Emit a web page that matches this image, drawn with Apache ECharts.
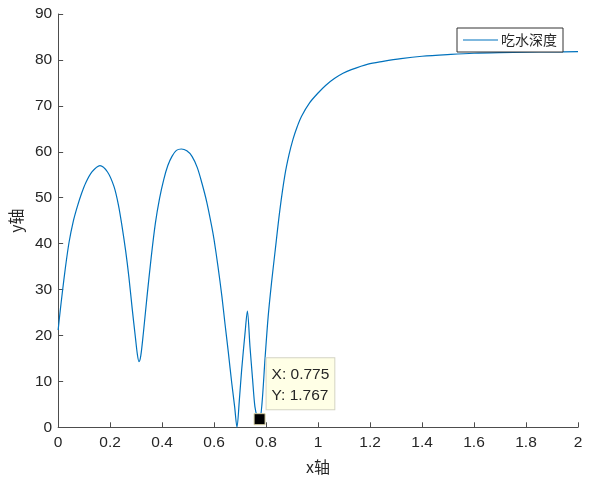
<!DOCTYPE html>
<html>
<head>
<meta charset="utf-8">
<script src="https://cdn.jsdelivr.net/npm/echarts@6/dist/echarts.min.js"></script>
<style>
  html, body { margin: 0; padding: 0; background: #fff; }
  #chart { width: 590px; height: 483px; }
</style>
</head>
<body>
<div id="chart"></div>
<script>
// 吃水深度曲线 (从图上读出的点)
const xData = [0, 0.008, 0.016, 0.028, 0.042, 0.058, 0.074, 0.09, 0.106, 0.13, 0.161, 0.19, 0.215, 0.232, 0.246, 0.26, 0.272, 0.285, 0.297, 0.305, 0.311, 0.318, 0.328, 0.342, 0.358, 0.374, 0.39, 0.406, 0.422, 0.438, 0.455, 0.474, 0.495, 0.515, 0.535, 0.553, 0.572, 0.591, 0.6, 0.615, 0.63, 0.642, 0.655, 0.668, 0.679, 0.688, 0.697, 0.706, 0.719, 0.728, 0.738, 0.748, 0.757, 0.766, 0.775, 0.784, 0.796, 0.808, 0.821, 0.834, 0.853, 0.872, 0.888, 0.904, 0.92, 0.936, 0.968, 1.0, 1.03, 1.064, 1.096, 1.128, 1.192, 1.25, 1.319, 1.4, 1.511, 1.6, 1.7, 1.8, 1.9, 2.0]
const yData = [21.2, 25.4, 29.3, 34.8, 40.3, 44.8, 48.1, 50.9, 53.2, 55.6, 57.0, 55.6, 52.4, 48.4, 43.7, 38.3, 32.8, 25.8, 19.7, 15.8, 14.3, 15.6, 20.6, 28.5, 37, 44.4, 49.8, 53.9, 57, 59.0, 60.3, 60.6, 60.2, 59, 56.6, 53.2, 49, 43.7, 40.8, 35, 28.5, 22.5, 16.2, 9.6, 4.5, 0, 5.8, 12.5, 20.5, 25.3, 17.6, 10.5, 4.5, 2.3, 1.767, 5, 15, 24.1, 31.5, 38, 47.3, 54.8, 59.3, 62.8, 65.5, 67.7, 70.7, 72.8, 74.5, 76.0, 77.1, 77.9, 79.1, 79.7, 80.3, 80.8, 81.2, 81.45, 81.6, 81.7, 81.75, 81.8]
const xTicks = [0, 0.2, 0.4, 0.6, 0.8, 1, 1.2, 1.4, 1.6, 1.8, 2]
const yTicks = [0, 10, 20, 30, 40, 50, 60, 70, 80, 90]
const tipPoint = [0.775, 1.767] // 数据提示点

const myChart = echarts.init(document.getElementById('chart'))
const axisColor = '#4d4d4d'
const textColor = '#262626'
const font = '"Liberation Sans", Arial, sans-serif'

const option = {
  animation: false,
  grid: {
    left: 55.7,
    right: 12,
    top: 14,
    bottom: 55.7
  },
  legend: {
    right: 27,
    top: 28,
    padding: [5, 6, 5, 6],
    itemWidth: 35,
    itemHeight: 14,
    itemGap: 0,
    borderColor: '#333',
    borderWidth: 1,
    backgroundColor: '#fff',
    icon: 'path://M0,0L35,0L35,0Z M0,6.5L35,6.5L35,7.5L0,7.5Z M0,14L35,14L35,14Z',
    textStyle: {
      color: textColor,
      fontSize: 14,
      fontFamily: '"Noto Sans CJK SC", sans-serif',
      padding: [0, 0, 0, -2]
    },
    data: ['吃水深度']
  },
  xAxis: {
    type: 'value',
    min: xTicks[0],
    max: xTicks[xTicks.length - 1],
    interval: 0.2,
    name: 'x轴',
    nameLocation: 'middle',
    nameGap: 32,
    nameTextStyle: { color: textColor, fontSize: 16, fontFamily: '"Noto Sans CJK SC", sans-serif' },
    axisLine: { lineStyle: { color: axisColor, width: 1 } },
    axisTick: { inside: true, length: 5, lineStyle: { color: axisColor } },
    axisLabel: {
      color: textColor,
      fontSize: 15.5,
      fontFamily: font,
      margin: 7,
      formatter: v => String(+v.toFixed(1))
    },
    splitLine: { show: false }
  },
  yAxis: {
    type: 'value',
    min: yTicks[0],
    max: yTicks[yTicks.length - 1],
    interval: 10,
    name: 'y轴',
    nameLocation: 'middle',
    nameGap: 33,
    nameTextStyle: { color: textColor, fontSize: 16, fontFamily: '"Noto Sans CJK SC", sans-serif' },
    axisLine: { show: true, lineStyle: { color: axisColor, width: 1 } },
    axisTick: { show: true, inside: true, length: 5, lineStyle: { color: axisColor } },
    axisLabel: { color: textColor, fontSize: 15.5, fontFamily: font, margin: 6 },
    splitLine: { show: false }
  },
  series: [
    {
      name: '吃水深度',
      type: 'line',
      symbol: 'none',
      smooth: 0.3,
      lineStyle: { color: '#0072BD', width: 1.2 },
      itemStyle: { color: '#0072BD' },
      data: xData.map((x, i) => [x, yData[i]]),
      markPoint: {
        symbol: 'rect',
        symbolSize: 11,
        itemStyle: { color: '#000', borderColor: '#d9d3a6', borderWidth: 1 },
        data: [
          {
            coord: tipPoint,
            label: {
              show: true,
              position: [13, -55],
              formatter: 'X: ' + tipPoint[0] + '\nY: ' + tipPoint[1],
              color: textColor,
              fontSize: 15.5,
              fontFamily: font,
              lineHeight: 21,
              backgroundColor: '#ffffe6',
              borderColor: '#d4d4c4',
              borderWidth: 1,
              padding: [6, 5, 3, 5]
            }
          }
        ]
      }
    }
  ]
}
myChart.setOption(option)
</script>
</body>
</html>
